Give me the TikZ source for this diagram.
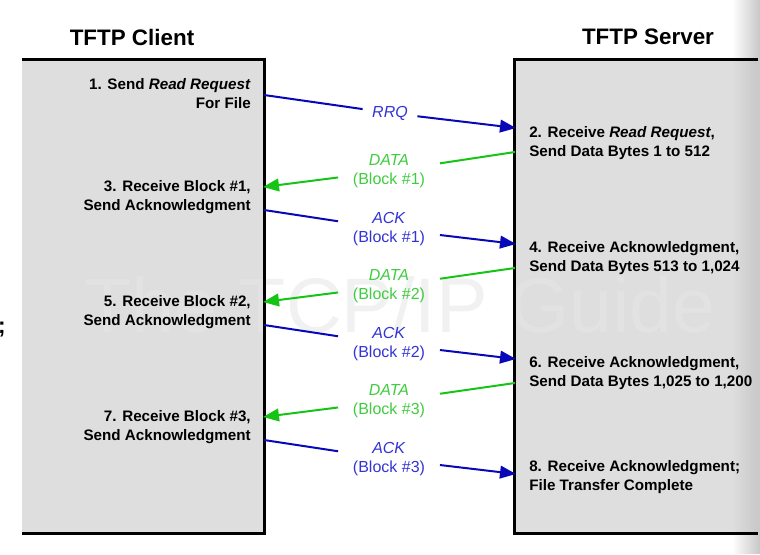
\documentclass[tikz,border=0pt]{standalone}
\usepackage{fontspec}
\setmainfont{Liberation Sans}
\usetikzlibrary{arrows.meta,positioning,fadings}
\definecolor{hostgray}{HTML}{DEDEDE}
\definecolor{ackblue}{HTML}{0808B8}
\definecolor{acktext}{HTML}{3434D4}
\definecolor{datagreen}{HTML}{16C416}
\definecolor{datatext}{HTML}{40CC40}
\definecolor{markgray}{HTML}{E6E6E6}
\tikzset{
    host/.style = {
        fill = hostgray,
        inner sep = 0pt,
        },
    rim/.style = {
        line width = 2pt,
        line join = miter,
        },
    title/.style = {
        font = \fontsize{16.8}{20}\selectfont\bfseries,
        },
    client text/.style = {
        anchor = east,
        align = right,
        inner sep = 0pt,
        font = \fontsize{11.4}{14.25}\selectfont\bfseries,
        },
    server text/.style = {
        anchor = west,
        align = left,
        inner sep = 0pt,
        font = \fontsize{11.4}{14.25}\selectfont\bfseries,
        },
    msg/.style = {
        align = center,
        inner xsep = 11pt,
        inner ysep = 2pt,
        font = \fontsize{12}{14.25}\selectfont,
        },
    ack msg/.style = {
        msg,
        text = acktext,
        },
    data msg/.style = {
        msg,
        text = datatext,
        },
    ack/.style = {
        draw = ackblue,
        line width = 1.5pt,
        },
    data/.style = {
        draw = datagreen,
        line width = 1.5pt,
        },
    tip/.style = {
        -{Triangle[length=12pt,width=9.5pt]},
        },
    watermark/.style = {
        text = markgray,
        text opacity = 0.55,
        font = \fontsize{58}{60}\selectfont,
        },
}

\begin{document}
\begin{tikzpicture}[x=0.75pt, y=-0.75pt]
    \useasboundingbox (0,0) rectangle (760,554);

    % the two hosts
    \node[host, minimum width=181.5pt, minimum height=354.75pt] (client) at (143,296.5) {};
    \node[host, minimum width=182.25pt, minimum height=354.75pt] (server) at (636.5,296.5) {};
    \node[title] (ctitle) at (132,37) {TFTP Client};
    \node[title] (stitle) at (648,37) {TFTP Server};

    \node[watermark] (wm) at (400,305) {The TCP/IP Guide};
    \node[anchor=base east, inner sep=0pt, font=\fontsize{17}{17}\selectfont\bfseries] (cut) at (6,333) {;};
    \fill[black!22, path fading=west] (732,0) rectangle (760,554);

    \draw[rim] (client.north west) -- (client.north east) -- (client.south east) -- (client.south west);
    \draw[rim] (server.north east) -- (server.north west) -- (server.south west) -- (server.south east);

    % steps
    \node[client text] (s1) at (251,93.5) {1. Send \textit{Read Request}\\For File};
    \node[server text] (s2) at (529,143) {2. Receive \textit{Read Request},\\Send Data Bytes 1 to 512};
    \node[client text] (s3) at (251,197.5) {3. Receive Block \#1,\\Send Acknowledgment};
    \node[server text] (s4) at (529,258) {4. Receive Acknowledgment,\\Send Data Bytes 513 to 1,024};
    \node[client text] (s5) at (251,312.5) {5. Receive Block \#2,\\Send Acknowledgment};
    \node[server text] (s6) at (529,373) {6. Receive Acknowledgment,\\Send Data Bytes 1,025 to 1,200};
    \node[client text] (s7) at (251,427.5) {7. Receive Block \#3,\\Send Acknowledgment};
    \node[server text] (s8) at (529,477) {8. Receive Acknowledgment;\\File Transfer Complete};

    % messages
    \node[ack msg, inner xsep=7pt] (m1) at (390,113) {\textit{RRQ}};
    \node[data msg] (m2) at (389,171) {\textit{DATA}\\(Block \#1)};
    \node[ack msg] (m3) at (389,229) {\textit{ACK}\\(Block \#1)};
    \node[data msg] (m4) at (389,286) {\textit{DATA}\\(Block \#2)};
    \node[ack msg] (m5) at (389,344) {\textit{ACK}\\(Block \#2)};
    \node[data msg] (m6) at (389,401) {\textit{DATA}\\(Block \#3)};
    \node[ack msg] (m7) at (389,459) {\textit{ACK}\\(Block \#3)};

    \coordinate (c1) at (264,95);   \coordinate (e1) at (516,128);
    \coordinate (c2) at (263,187);  \coordinate (e2) at (515,152);
    \coordinate (c3) at (264,210);  \coordinate (e3) at (516,244);
    \coordinate (c4) at (263,302);  \coordinate (e4) at (515,268);
    \coordinate (c5) at (264,325);  \coordinate (e5) at (516,359);
    \coordinate (c6) at (263,417);  \coordinate (e6) at (515,383);
    \coordinate (c7) at (264,440);  \coordinate (e7) at (516,474);

    \path (c1) edge[ack] (m1) (m1) edge[ack, tip] (e1);
    \path (e2) edge[data] (m2) (m2) edge[data, tip] (c2);
    \path (c3) edge[ack] (m3) (m3) edge[ack, tip] (e3);
    \path (e4) edge[data] (m4) (m4) edge[data, tip] (c4);
    \path (c5) edge[ack] (m5) (m5) edge[ack, tip] (e5);
    \path (e6) edge[data] (m6) (m6) edge[data, tip] (c6);
    \path (c7) edge[ack] (m7) (m7) edge[ack, tip] (e7);
\end{tikzpicture}
\end{document}
